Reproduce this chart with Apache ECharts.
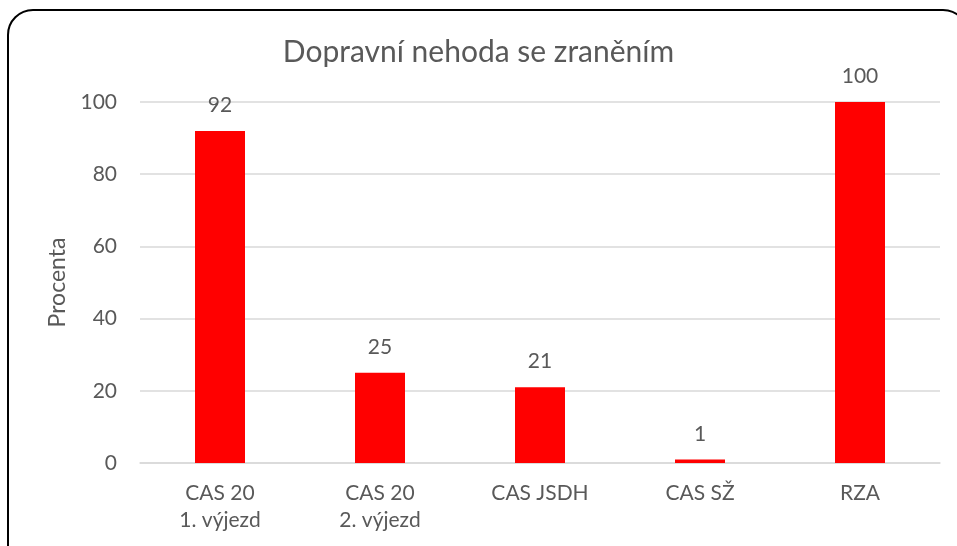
<!DOCTYPE html>
<html>
<head>
<meta charset="utf-8">
<script src="https://cdn.jsdelivr.net/npm/echarts@6/dist/echarts.min.js"></script>
<style>
html, body { margin: 0; padding: 0; background: #fff; overflow: hidden; }
#frame {
    position: absolute;
    left: 7px; top: 9px;
    width: 962px; height: 570px;
    border: 2px solid #000;
    border-radius: 26px;
    box-sizing: border-box;
}
#chart { position: absolute; left: 0; top: 0; width: 957px; height: 546px; }
</style>
</head>
<body>
<div id="frame"></div>
<div id="chart"></div>
<script>
var categories = ['CAS 20\n1. výjezd', 'CAS 20\n2. výjezd', 'CAS JSDH', 'CAS SŽ', 'RZA'];
var values = [92, 25, 21, 1, 100];
var yTicks = { min: 0, max: 100, interval: 20 };

var font = 'Lato, "Noto Sans", sans-serif';
var txt = '#595959';

var chart = echarts.init(document.getElementById('chart'));
chart.setOption({
    animation: false,
    title: {
        text: 'Dopravní nehoda se zraněním',
        left: 'center',
        top: 32,
        textStyle: { fontFamily: font, fontSize: 30, fontWeight: 'normal', color: txt }
    },
    grid: { left: 140, right: 17, top: 102, bottom: 83 },
    xAxis: {
        type: 'category',
        data: categories,
        axisLine: { lineStyle: { color: '#d9d9d9', width: 1.5 } },
        axisTick: { show: false },
        axisLabel: { fontFamily: font, fontSize: 21, color: txt, margin: 17, lineHeight: 27 }
    },
    yAxis: {
        type: 'value',
        min: yTicks.min, max: yTicks.max, interval: yTicks.interval,
        name: 'Procenta',
        nameLocation: 'middle',
        nameGap: 66,
        nameRotate: 90,
        nameTextStyle: { fontFamily: font, fontSize: 23, color: txt },
        axisLine: { show: false },
        axisTick: { show: false },
        axisLabel: { fontFamily: font, fontSize: 21, color: txt, margin: 23 },
        splitLine: { lineStyle: { color: '#d9d9d9', width: 1.5 } }
    },
    series: [{
        type: 'bar',
        data: values,
        barWidth: 50,
        itemStyle: { color: '#ff0000' },
        label: {
            show: true,
            position: 'top',
            distance: 15,
            fontFamily: font,
            fontSize: 21,
            color: txt
        }
    }]
});
</script>
</body>
</html>
